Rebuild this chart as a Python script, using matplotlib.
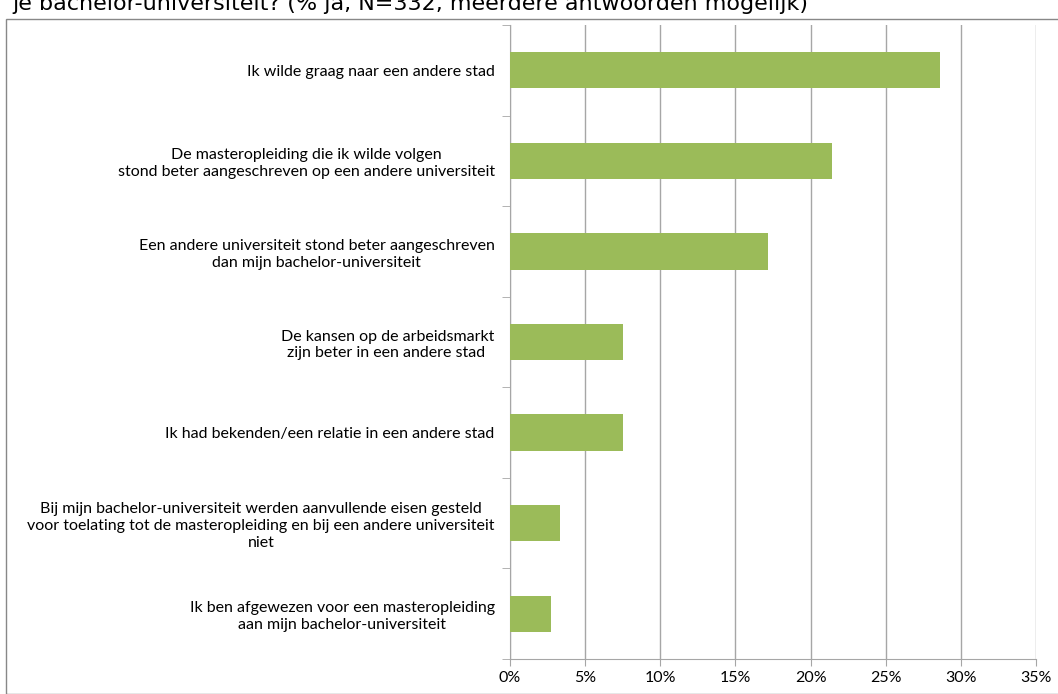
import matplotlib.pyplot as plt
import numpy
from matplotlib.patches import Rectangle
from matplotlib.ticker import FixedLocator, PercentFormatter

labels = [
    'Ik wilde graag naar een andere stad',
    'De masteropleiding die ik wilde volgen\nstond beter aangeschreven op een andere universiteit',
    'Een andere universiteit stond beter aangeschreven\ndan mijn bachelor-universiteit',
    'De kansen op de arbeidsmarkt\nzijn beter in een andere stad ',
    'Ik had bekenden/een relatie in een andere stad',
    'Bij mijn bachelor-universiteit werden aanvullende eisen gesteld\n'
    'voor toelating tot de masteropleiding en bij een andere universiteit\nniet',
    'Ik ben afgewezen voor een masteropleiding\naan mijn bachelor-universiteit',
]
values = [28.6, 21.4, 17.2, 7.5, 7.5, 3.3, 2.7]
xticks = [0, 5, 10, 15, 20, 25, 30, 35]
title_line = 'je bachelor-universiteit? (% ja, N=332, meerdere antwoorden mogelijk)'

grey = '#a6a6a6'

fig = plt.figure(figsize=(10.58, 6.94), dpi=100)
ax = fig.add_axes([510 / 1058, 35 / 694, 526 / 1058, 634 / 694])

pos = numpy.arange(len(values))
ax.barh(pos, values, height=0.4, color='#9bbb59', zorder=3)
ax.set_ylim(len(values) - 0.5, -0.5)
ax.set_xlim(0, 35)

ax.set_xticks(xticks)
ax.xaxis.set_major_formatter(PercentFormatter(decimals=0))
ax.set_yticks(pos)
ax.set_yticklabels(labels)
ax.yaxis.set_minor_locator(FixedLocator(numpy.arange(-0.5, len(values), 1.0)))
for lbl in ax.get_yticklabels():
    lbl.set_multialignment('center')
    lbl.set_fontfamily('Lato')
    lbl.set_fontsize(11.5)
    lbl.set_linespacing(1.25)
for lbl in ax.get_xticklabels():
    lbl.set_fontfamily('Lato')
    lbl.set_fontsize(11.5)

ax.tick_params(axis='y', which='major', length=0, pad=11)
ax.tick_params(axis='y', which='minor', length=6, color=grey, direction='out')
ax.tick_params(axis='x', length=5, color=grey, direction='out', pad=4)
ax.grid(axis='x', color=grey, linewidth=1, zorder=0)
for side in ['top', 'right']:
    ax.spines[side].set_visible(False)
for side in ['left', 'bottom']:
    ax.spines[side].set_color(grey)

# outer border and (cut off) title line
fig.patches.append(Rectangle((6 / 1058, 0), 1.1, 1 - 19 / 694, transform=fig.transFigure,
                             fill=False, edgecolor='#888888', linewidth=1))
fig.text(12 / 1058, 1 - 10 / 694, title_line, fontsize=16, va='baseline', ha='left',
         fontfamily='DejaVu Sans')

fig.savefig('out.png', dpi=100)
